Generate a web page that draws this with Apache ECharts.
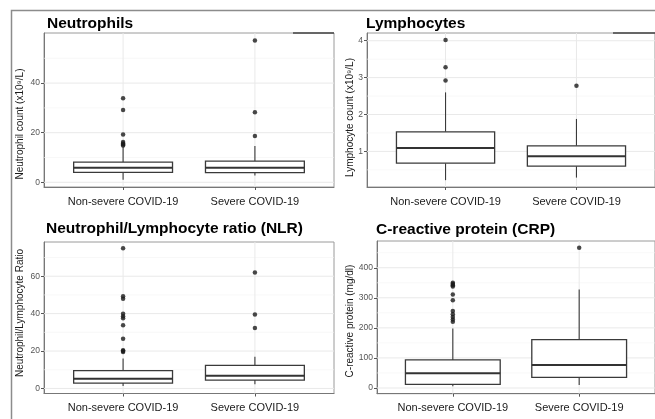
<!DOCTYPE html>
<html><head><meta charset="utf-8">
<script src="https://cdn.jsdelivr.net/npm/echarts@6/dist/echarts.min.js"></script>
<style>html,body{margin:0;padding:0;background:#fff}#c{width:655px;height:419px}</style>
</head><body><div id="c"></div>
<script>
// ---------- data ----------
const categories = ['Non-severe COVID-19', 'Severe COVID-19'];
const catPos = [1, 2];

// box stats: [lower whisker, Q1, median, Q3, upper whisker]
const neutBox = [[1.0, 4.0, 5.9, 8.1, 14.2], [2.7, 3.9, 5.9, 8.5, 14.6]];
const neutOut = [[14.8, 15.2, 15.6, 16.2, 19.3, 29.2, 33.9], [18.7, 28.2, 57.2]];
const neutTicks = [0, 20, 40];
const neutMinor = [10, 30, 50];

const lymBox = [[0.22, 0.68, 1.09, 1.53, 2.6], [0.29, 0.60, 0.87, 1.15, 1.88]];
const lymOut = [[2.92, 3.28, 4.02], [2.78]];
const lymTicks = [1, 2, 3, 4];
const lymMinor = [0.5, 1.5, 2.5, 3.5];

const nlrBox = [[1.3, 2.9, 5.2, 9.5, 16.0], [2.3, 4.5, 6.8, 12.3, 17.0]];
const nlrOut = [[19.5, 20.0, 20.4, 26.6, 33.8, 37.5, 38.6, 40.0, 47.9, 49.3, 75.0], [32.3, 39.5, 62.0]];
const nlrTicks = [0, 20, 40, 60];
const nlrMinor = [10, 30, 50, 70];

const crpBox = [[5.5, 12.2, 48.9, 93.3, 197.8], [10.0, 35.6, 76.7, 161.0, 327.8]];
const crpOut = [[220, 228, 236, 245, 256, 292, 311, 338, 342, 346, 350], [466.7]];
const crpTicks = [0, 100, 200, 300, 400];
const crpMinor = [50, 150, 250, 350, 450];

// ---------- layout ----------
const FONT = '"Liberation Sans", Arial, Helvetica, sans-serif';
const panels = [
  {title: 'Neutrophils', ytitle: 'Neutrophil count (x10\u2079/L)', box: neutBox, out: neutOut, ticks: neutTicks, minor: neutMinor,
   min: -1.9, max: 60.2, grid: {left: 44, top: 33, width: 290, height: 154}, tpos: [47, 16], ypos: [20.5, 124]},
  {title: 'Lymphocytes', ytitle: 'Lymphocyte count (x10\u2079/L)', box: lymBox, out: lymOut, ticks: lymTicks, minor: lymMinor,
   min: 0.035, max: 4.21, grid: {left: 367, top: 33, width: 295, height: 154}, tpos: [366, 16], ypos: [350.5, 117.5]},
  {title: 'Neutrophil/Lymphocyte ratio (NLR)', ytitle: 'Neutrophil/Lymphocyte Ratio', box: nlrBox, out: nlrOut, ticks: nlrTicks, minor: nlrMinor,
   min: -2.7, max: 78.3, grid: {left: 44, top: 242, width: 290, height: 151.5}, tpos: [46, 221], ypos: [20.5, 313]},
  {title: 'C-reactive protein (CRP)', ytitle: 'C-reactive protein (mg/dl)', box: crpBox, out: crpOut, ticks: crpTicks, minor: crpMinor,
   min: -19, max: 489, grid: {left: 377, top: 241, width: 285, height: 152.7}, tpos: [376, 222], ypos: [350.5, 321]}
];

function renderBox(params, api) {
  const x = api.value(0);
  const lo = api.value(1), q1 = api.value(2), med = api.value(3), q3 = api.value(4), hi = api.value(5);
  const hw = 0.375;
  const tl = api.coord([x - hw, q3]), br = api.coord([x + hw, q1]);
  const pLo = api.coord([x, lo]), pHi = api.coord([x, hi]);
  const pQ1 = api.coord([x, q1]), pQ3 = api.coord([x, q3]);
  const mL = api.coord([x - hw, med]), mR = api.coord([x + hw, med]);
  const st = {stroke: '#3a3a3a', lineWidth: 1.1};
  return {type: 'group', children: [
    {type: 'line', shape: {x1: pLo[0], y1: pLo[1], x2: pQ1[0], y2: pQ1[1]}, style: st},
    {type: 'line', shape: {x1: pQ3[0], y1: pQ3[1], x2: pHi[0], y2: pHi[1]}, style: st},
    {type: 'rect', shape: {x: tl[0], y: tl[1], width: br[0] - tl[0], height: br[1] - tl[1]}, style: {fill: '#fff', stroke: '#3a3a3a', lineWidth: 1.3}},
    {type: 'line', shape: {x1: mL[0], y1: mL[1], x2: mR[0], y2: mR[1]}, style: {stroke: '#333', lineWidth: 2}}
  ]};
}
function hLine(color, w) {
  return function (params, api) {
    const cs = params.coordSys;
    const p = api.coord([1, api.value(1)]);
    return {type: 'line', shape: {x1: cs.x, y1: p[1], x2: cs.x + cs.width, y2: p[1]}, style: {stroke: color, lineWidth: w}};
  };
}
function vLine(color, w) {
  return function (params, api) {
    const cs = params.coordSys;
    const p = api.coord([api.value(0), api.value(1)]);
    return {type: 'line', shape: {x1: p[0], y1: cs.y, x2: p[0], y2: cs.y + cs.height}, style: {stroke: color, lineWidth: w}};
  };
}

const grids = [], xAxes = [], yAxes = [], series = [], titles = [], graphics = [];
panels.forEach((p, i) => {
  grids.push(Object.assign({show: true, borderColor: '#9a9a9a', borderWidth: 1, backgroundColor: '#fff'}, p.grid));
  xAxes.push({type: 'value', gridIndex: i, min: 0.4, max: 2.6,
    axisLine: {show: true, onZero: false, lineStyle: {color: '#777', width: 1}},
    axisTick: {show: true, customValues: catPos, length: 3, lineStyle: {color: '#555'}},
    axisLabel: {customValues: catPos, formatter: v => categories[Math.round(v) - 1], fontSize: 11, color: '#1a1a1a', margin: 9, fontFamily: FONT},
    splitLine: {show: false}});
  yAxes.push({type: 'value', gridIndex: i, min: p.min, max: p.max,
    axisLine: {show: true, onZero: false, lineStyle: {color: '#777', width: 1}},
    axisTick: {show: true, customValues: p.ticks, length: 3, lineStyle: {color: '#555'}},
    axisLabel: {customValues: p.ticks, fontSize: 8.5, color: '#555', margin: 4, fontFamily: FONT},
    splitLine: {show: false}});
  series.push({type: 'custom', xAxisIndex: i, yAxisIndex: i, z: 1, silent: true, renderItem: hLine('#f3f3f3', 0.6),
    data: p.minor.map(v => [1, v])});
  series.push({type: 'custom', xAxisIndex: i, yAxisIndex: i, z: 1, silent: true, renderItem: hLine('#e9e9e9', 1),
    data: p.ticks.map(v => [1, v])});
  series.push({type: 'custom', xAxisIndex: i, yAxisIndex: i, z: 1, silent: true, renderItem: vLine('#e9e9e9', 1),
    data: catPos.map(c => [c, p.ticks[0]])});
  series.push({type: 'custom', xAxisIndex: i, yAxisIndex: i, z: 2, renderItem: renderBox,
    encode: {x: 0, y: [1, 2, 3, 4, 5]},
    data: p.box.map((b, k) => [catPos[k]].concat(b))});
  const pts = [];
  p.out.forEach((arr, k) => arr.forEach(v => pts.push([catPos[k], v])));
  series.push({type: 'scatter', xAxisIndex: i, yAxisIndex: i, z: 3, symbolSize: 4.5,
    itemStyle: {color: '#1a1a1a'}, data: pts});
  titles.push({text: p.title, left: p.tpos[0], top: p.tpos[1], padding: 0,
    textStyle: {fontSize: 15.5, fontWeight: 'bold', color: '#000', fontFamily: FONT}});
  graphics.push({type: 'text', x: p.ypos[0], y: p.ypos[1], rotation: Math.PI / 2, z: 10,
    style: {text: p.ytitle, font: '10px ' + FONT, fill: '#1a1a1a', textAlign: 'center', textVerticalAlign: 'middle'}});
});
graphics.push({type: 'rect', z: 20, shape: {x: 11.5, y: 10.5, width: 700, height: 450},
  style: {fill: 'none', stroke: '#8c8c8c', lineWidth: 1.5}});
graphics.push({type: 'line', z: 20, shape: {x1: 293, y1: 33, x2: 334, y2: 33}, style: {stroke: '#444', lineWidth: 1.5}});
graphics.push({type: 'line', z: 20, shape: {x1: 613, y1: 33, x2: 660, y2: 33}, style: {stroke: '#444', lineWidth: 1.5}});

const chart = echarts.init(document.getElementById('c'), null, {renderer: 'canvas'});
chart.setOption({
  animation: false,
  backgroundColor: '#fff',
  title: titles,
  grid: grids,
  xAxis: xAxes,
  yAxis: yAxes,
  series: series,
  graphic: graphics
});
</script>
</body></html>
